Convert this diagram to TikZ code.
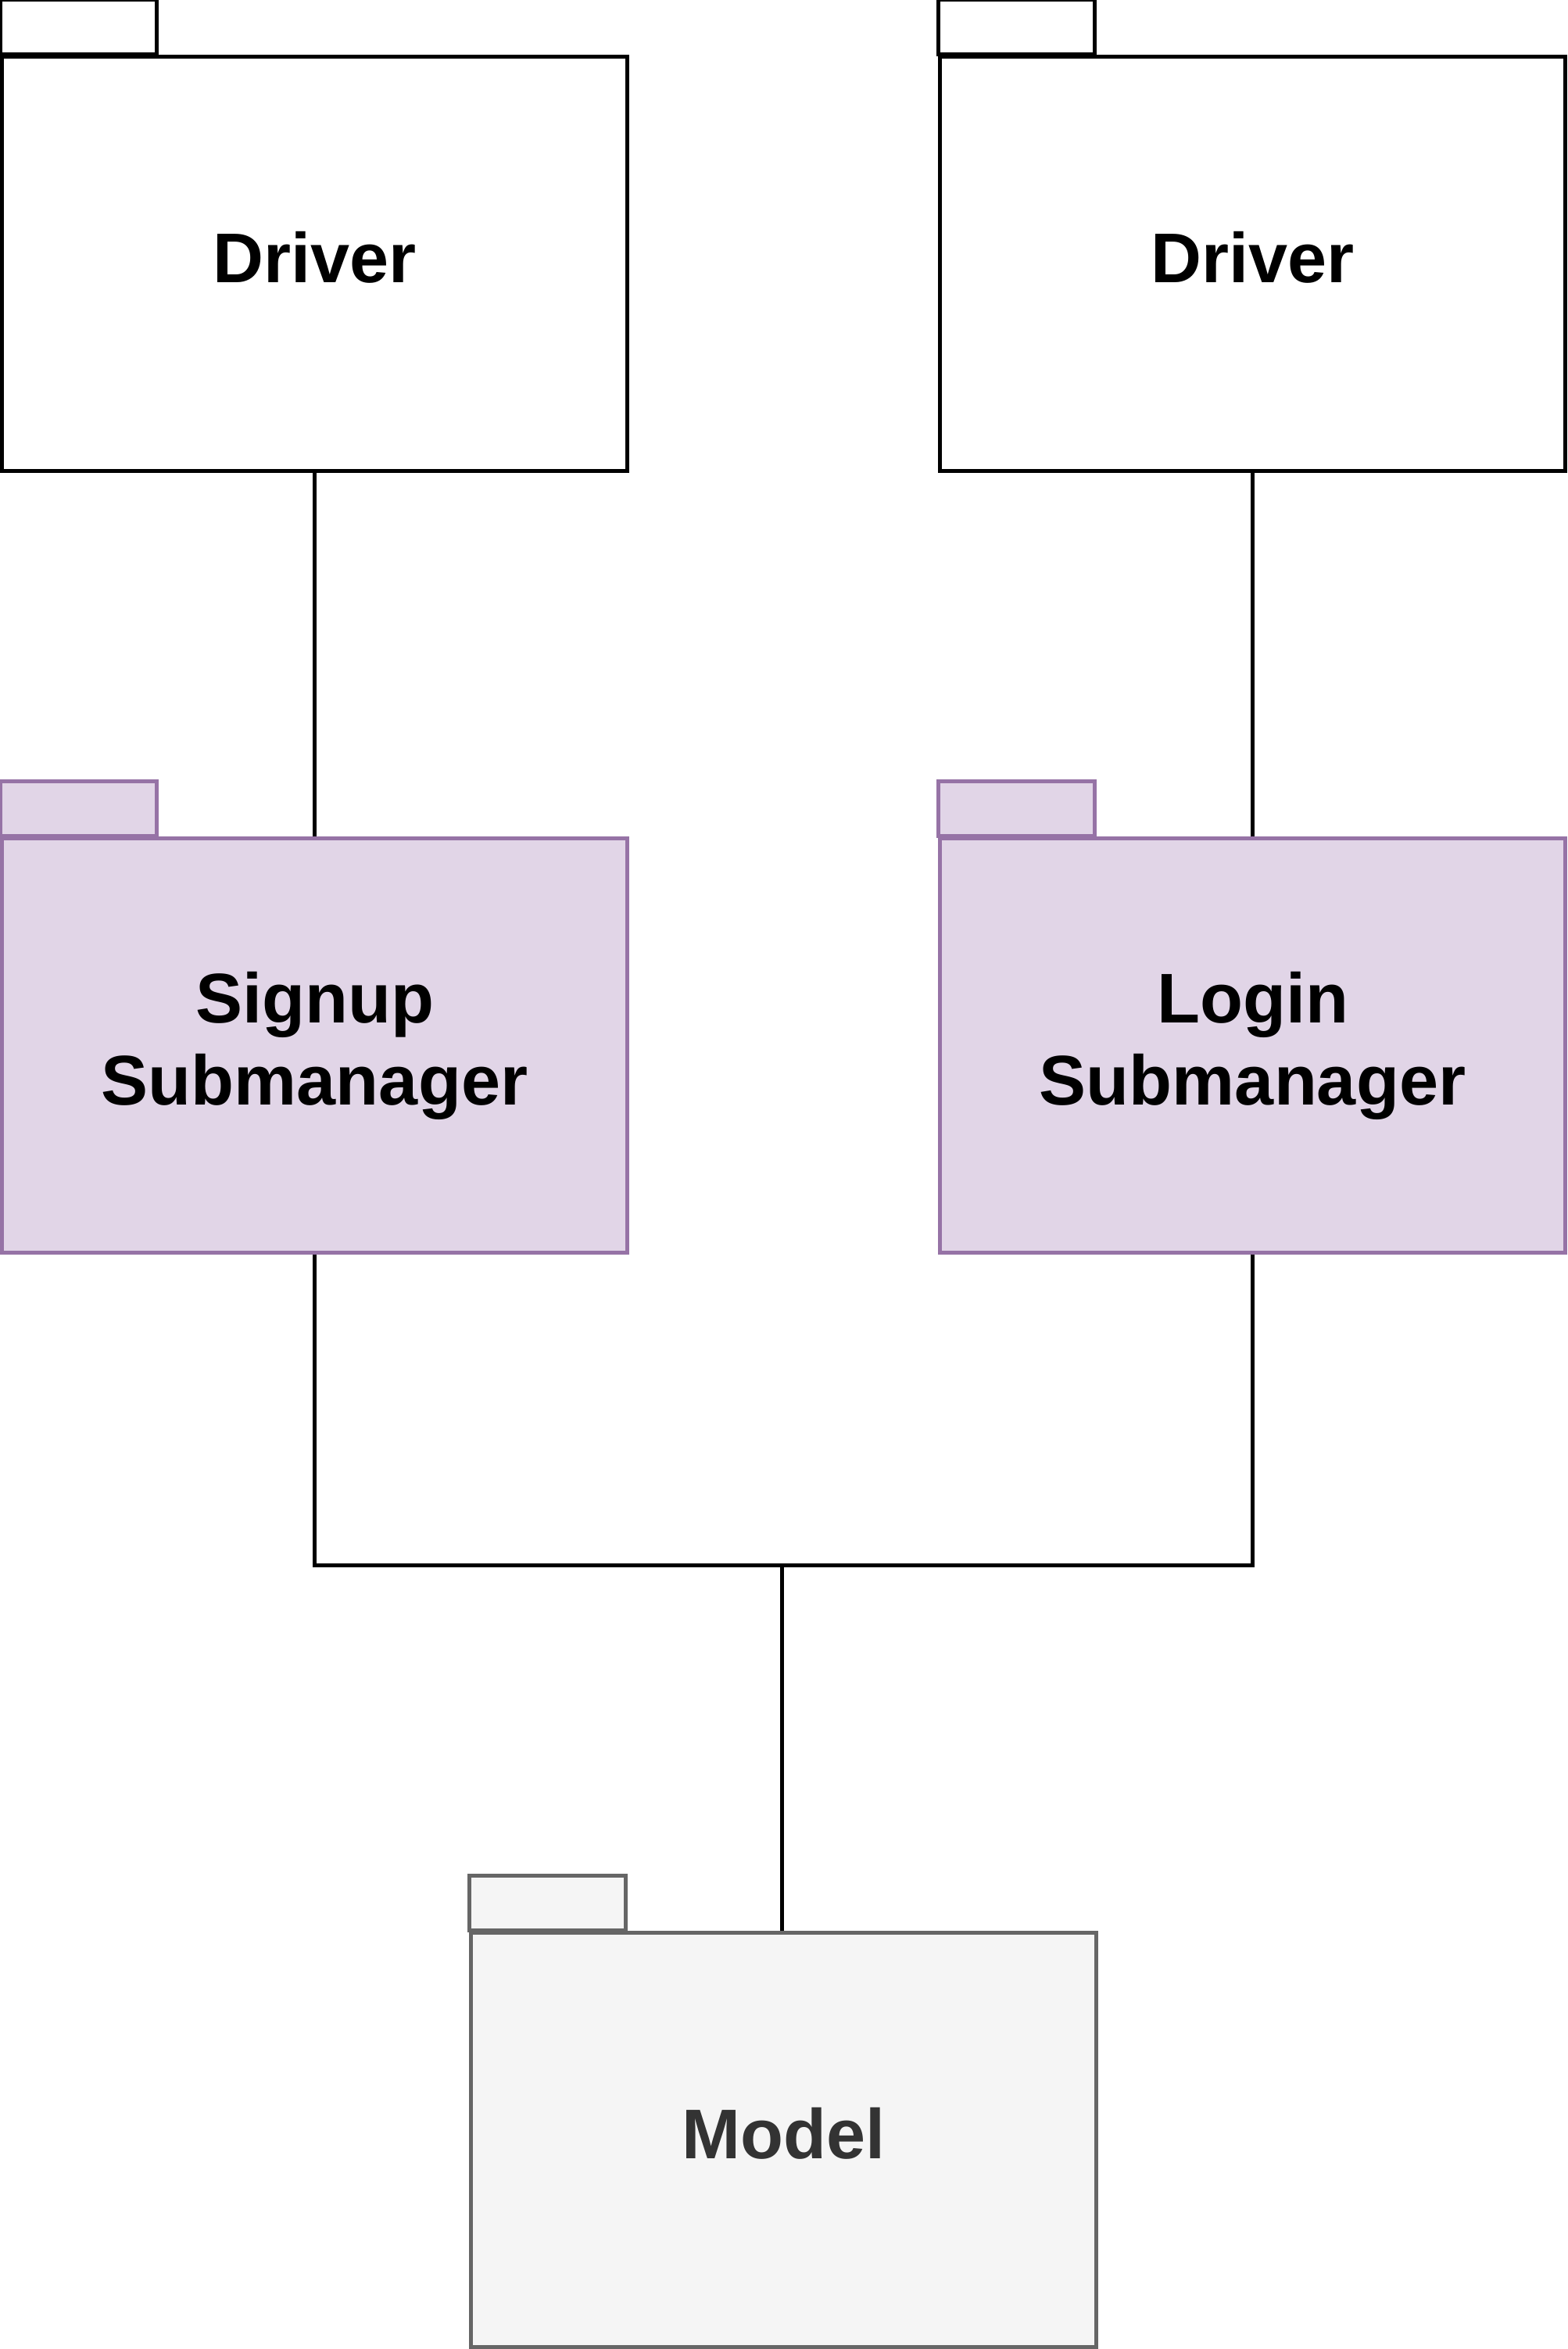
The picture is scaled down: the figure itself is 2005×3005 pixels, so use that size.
\documentclass[tikz,border=0pt]{standalone}
\usepackage{fontspec}
\setmainfont{Liberation Sans}
\usetikzlibrary{backgrounds}
\definecolor{purplefill}{HTML}{E1D5E7}
\definecolor{purpleline}{HTML}{9673A6}
\definecolor{greyfill}{HTML}{F5F5F5}
\definecolor{greyline}{HTML}{666666}
\definecolor{greytext}{HTML}{333333}
\begin{document}
\begin{tikzpicture}[x=1pt,y=1pt,
  pkgbody/.style={draw, line width=5pt, minimum width=800pt, minimum height=530pt,
    inner sep=0pt, align=center, font=\fontsize{90}{105}\selectfont\bfseries},
  oneline/.style={text depth=18pt},
  plainpkg/.style={pkgbody, draw=black, fill=white, text=black},
  purplepkg/.style={pkgbody, draw=purpleline, fill=purplefill, text=black},
  greypkg/.style={pkgbody, draw=greyline, fill=greyfill, text=greytext},
  plaintab/.style={draw=black, fill=white, line width=5pt},
  purpletab/.style={draw=purpleline, fill=purplefill, line width=5pt},
  greytab/.style={draw=greyline, fill=greyfill, line width=5pt},
  wire/.style={draw=black, line width=5pt}
]
\useasboundingbox (0,0) rectangle (2005,3005);
% package bodies
\node[plainpkg, oneline]  (driverL) at (402.5,2667.5) {Driver};
\node[plainpkg, oneline]  (driverR) at (1602.5,2667.5) {Driver};
\node[purplepkg] (signup)  at (402.5,1667.5) {Signup\\Submanager};
\node[purplepkg] (login)   at (1602.5,1667.5) {Login\\Submanager};
\node[greypkg, oneline]   (model)   at (1002.5,267.5) {Model};
% tabs
\draw[plaintab]  (driverL.north west) rectangle ++(200,70);
\draw[plaintab]  (driverR.north west) rectangle ++(200,70);
\draw[purpletab] (signup.north west) rectangle ++(200,70);
\draw[purpletab] (login.north west) rectangle ++(200,70);
\draw[greytab]   (model.north west) rectangle ++(200,70);
% connectors
\coordinate (bus) at (1000,1002.5);
\begin{pgfonlayer}{background}
\draw[wire] (driverL.south) -- (signup.north);
\draw[wire] (driverR.south) -- (login.north);
\draw[wire] (signup.south) |- (bus) -| (login.south);
\draw[wire] (bus) -- (bus |- model.north);
\end{pgfonlayer}
\end{tikzpicture}
\end{document}
